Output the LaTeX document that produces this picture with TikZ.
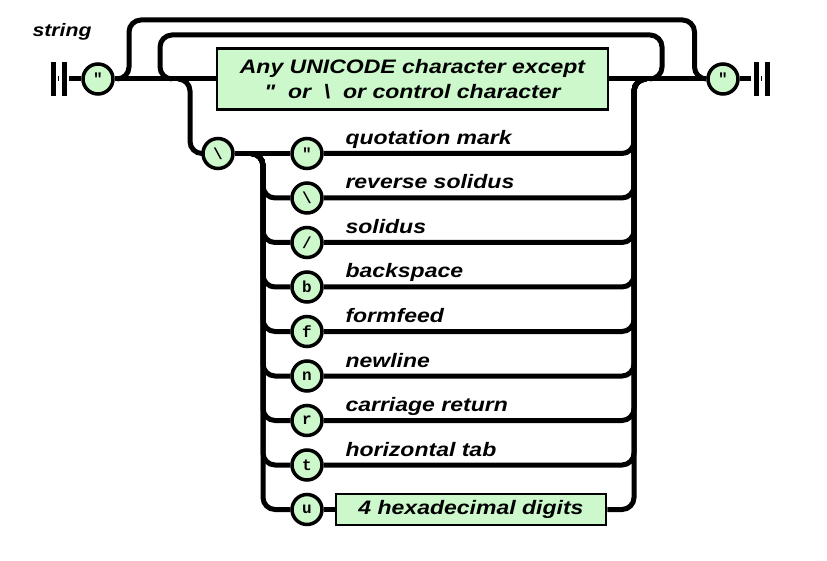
\documentclass[tikz,border=0pt]{standalone}
\usepackage{fontspec}
\usetikzlibrary{
  chains,
  scopes
}
\newfontfamily\railsans{Liberation Sans}[FakeStretch=1.18]
\newfontfamily\railmono{Liberation Mono}
\definecolor{railgreen}{RGB}{204,248,204}

\begin{document}
\begin{tikzpicture}[x=1pt,y=-1pt,
      nonterminal/.style={
         rectangle,
         line width=2.5pt,
         draw=black,
         fill=railgreen,
         inner sep=0pt,
         align=center,
         font=\railsans\bfseries\itshape\fontsize{19.5}{25}\selectfont
      },
      terminal/.style={
         circle,
         minimum size=30pt,
         inner sep=0pt,
         line width=3.5pt,
         draw=black,
         fill=railgreen,
         font=\railmono\bfseries\fontsize{16}{16}\selectfont
      },
      stopbar/.style={
         rectangle,fill=black,inner sep=0pt,
         minimum width=5pt,minimum height=34pt
      },
      desc/.style={
         anchor=base west,inner sep=0pt,
         font=\railsans\bfseries\itshape\fontsize{19.5}{22}\selectfont
      },
      point/.style={coordinate},line width=5pt,
      every join/.style={rounded corners=12pt},
      loop over/.style={
         to path={-- ++(12,0) -- ++(0,#1) -| ([xshift=-12pt]\tikztotarget) -- (\tikztotarget)}
      },
      drop path/.style={to path={-- ++(12,0) |- (\tikztotarget)}},
      rise path/.style={to path={-| ([xshift=-12pt]\tikztotarget) -- (\tikztotarget)}},
    ]
    \useasboundingbox (0,0) rectangle (827,561);
    % main line
    \node (title) [desc,font=\railsans\bfseries\itshape\fontsize{18}{20}\selectfont] at (30,37) {string};
    \node (bar1) [stopbar] at (53,79) {};
    \node (bar2) [stopbar] at (64,79) {};
    \node (q1) [terminal] at (98,79) {"};
    \node (box) [nonterminal,minimum width=391pt,minimum height=61pt] at (412.5,79)
       {Any UNICODE character except\\"\ \ or\ \ \textbackslash\ \ or control character};
    \node (q2) [terminal] at (723,79) {"};
    \node (bar3) [stopbar] at (756,79) {};
    \node (bar4) [stopbar] at (767,79) {};
    \node (oA) [point] at (117,79) {};
    \node (iB) [point] at (172,79) {};
    \node (eA) [point] at (178,79) {};
    \node (eC) [point] at (646,79) {};
    \node (iA) [point] at (650,79) {};
    \node (oB) [point] at (706.5,79) {};
    % escapes
    \node (esc) [terminal] at (218,153.5) {\textbackslash};
    \node (eB) [point] at (251,153.5) {};
    \node (tq) [terminal] at (307,153.5) {"};
    \node (tbs) [terminal] at (307,198) {\textbackslash};
    \node (tsl) [terminal] at (307,242.5) {/};
    \node (tb) [terminal] at (307,287) {b};
    \node (tf) [terminal] at (307,331.5) {f};
    \node (tn) [terminal] at (307,376) {n};
    \node (tr) [terminal] at (307,420.5) {r};
    \node (tt) [terminal] at (307,465) {t};
    \node (tu) [terminal] at (307,509.5) {u};
    \node (hex) [nonterminal,minimum width=270pt,minimum height=31pt] at (471,509.5) {4 hexadecimal digits};
    \node (lq) [desc] at (343,144.5) {quotation mark};
    \node (lbs) [desc] at (343,189) {reverse solidus};
    \node (lsl) [desc] at (343,233.5) {solidus};
    \node (lb) [desc] at (343,278) {backspace};
    \node (lf) [desc] at (343,322.5) {formfeed};
    \node (ln) [desc] at (343,367) {newline};
    \node (lr) [desc] at (343,411.5) {carriage return};
    \node (lt) [desc] at (343,456) {horizontal tab};
  { [start chain]
       \chainin (bar1);
       \chainin (bar2)    [join];
       \chainin (q1)    [join];
       \chainin (box)    [join];
       \chainin (q2)    [join];
       \chainin (bar3)    [join];
       \chainin (bar4)    [join];
  }
  { [start chain]
       \chainin (oA);
       \chainin (oB)    [join=by {loop over=-59}];
  }
  { [start chain]
       \chainin (iA);
       \chainin (iB)    [join=by {loop over=-44}];
  }
  { [start chain]
       \chainin (eA);
       \chainin (esc)    [join=by drop path];
       \chainin (tq)    [join];
       \chainin (eC)    [join=by rise path];
  }
  { [start chain]
       \chainin (eB);
       \chainin (tbs)    [join=by drop path];
       \chainin (eC)    [join=by rise path];
  }
  { [start chain]
       \chainin (eB);
       \chainin (tsl)    [join=by drop path];
       \chainin (eC)    [join=by rise path];
  }
  { [start chain]
       \chainin (eB);
       \chainin (tb)    [join=by drop path];
       \chainin (eC)    [join=by rise path];
  }
  { [start chain]
       \chainin (eB);
       \chainin (tf)    [join=by drop path];
       \chainin (eC)    [join=by rise path];
  }
  { [start chain]
       \chainin (eB);
       \chainin (tn)    [join=by drop path];
       \chainin (eC)    [join=by rise path];
  }
  { [start chain]
       \chainin (eB);
       \chainin (tr)    [join=by drop path];
       \chainin (eC)    [join=by rise path];
  }
  { [start chain]
       \chainin (eB);
       \chainin (tt)    [join=by drop path];
       \chainin (eC)    [join=by rise path];
  }
  { [start chain]
       \chainin (eB);
       \chainin (tu)    [join=by drop path];
       \chainin (hex)    [join];
       \chainin (eC)    [join=by rise path];
  }
\end{tikzpicture}
\end{document}
